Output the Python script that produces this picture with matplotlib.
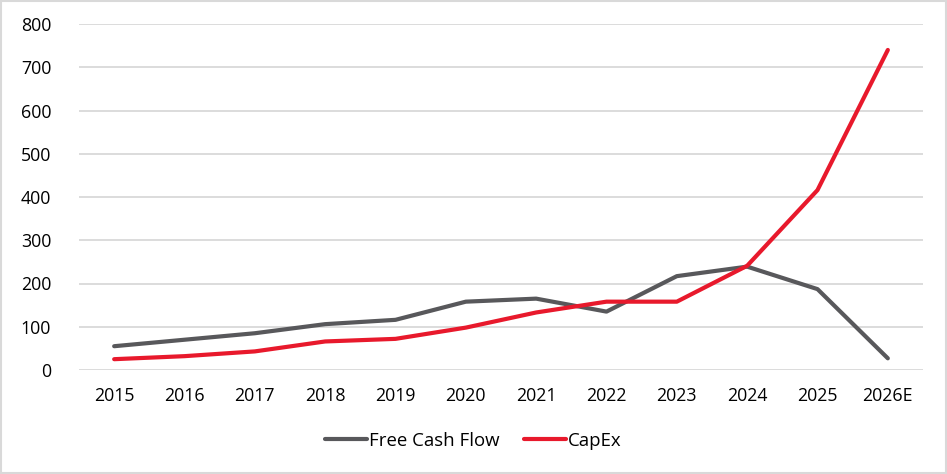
import matplotlib
matplotlib.use("Agg")
import matplotlib.pyplot as plt
from matplotlib.patches import Rectangle

# data
years = ["2015", "2016", "2017", "2018", "2019", "2020", "2021",
         "2022", "2023", "2024", "2025", "2026E"]
free_cash_flow = [55, 70, 85, 106, 116, 158, 165, 135, 217, 239, 187, 27]
capex = [25, 32, 43, 66, 72, 98, 133, 158, 158, 241, 416, 740]
y_ticks = [0, 100, 200, 300, 400, 500, 600, 700, 800]

plt.rcParams['font.family'] = ['Open Sans', 'DejaVu Sans']

W, H = 947, 474
fig = plt.figure(figsize=(W / 100, H / 100), dpi=100)
fig.patch.set_facecolor('white')

ax = fig.add_axes([79 / W, (H - 370) / H, (923 - 79) / W, (370 - 24) / H])

x = list(range(len(years)))
ax.plot(x, free_cash_flow, color='#58585b', lw=3, label='Free Cash Flow',
        solid_capstyle='round', solid_joinstyle='round', zorder=3)
ax.plot(x, capex, color='#e8192c', lw=3, label='CapEx',
        solid_capstyle='round', solid_joinstyle='round', zorder=4)

ax.set_xlim(-0.5, len(years) - 0.5)
ax.set_ylim(0, 800)
ax.set_xticks(x)
ax.set_xticklabels(years)
ax.set_yticks(y_ticks)
ax.grid(axis='y', color='#d9d9d9', lw=1.3)
ax.set_axisbelow(True)
for s in ax.spines.values():
    s.set_visible(False)
ax.tick_params(length=0, labelsize=12.8, colors='#000000')
ax.tick_params(axis='x', pad=12)
ax.tick_params(axis='y', pad=20)

fig.legend(loc='center', bbox_to_anchor=(0.5, 1 - 441 / H), ncol=2,
           frameon=False, fontsize=13.4, handlelength=2.25,
           handletextpad=0.12, columnspacing=1.3)

# light grey frame round the whole picture
fig.patches.append(Rectangle((0.001, 0.002), 0.998, 0.996, transform=fig.transFigure,
                             fill=False, edgecolor='#d9d9d9', lw=1.5))

fig.savefig('out.png', dpi=100)
